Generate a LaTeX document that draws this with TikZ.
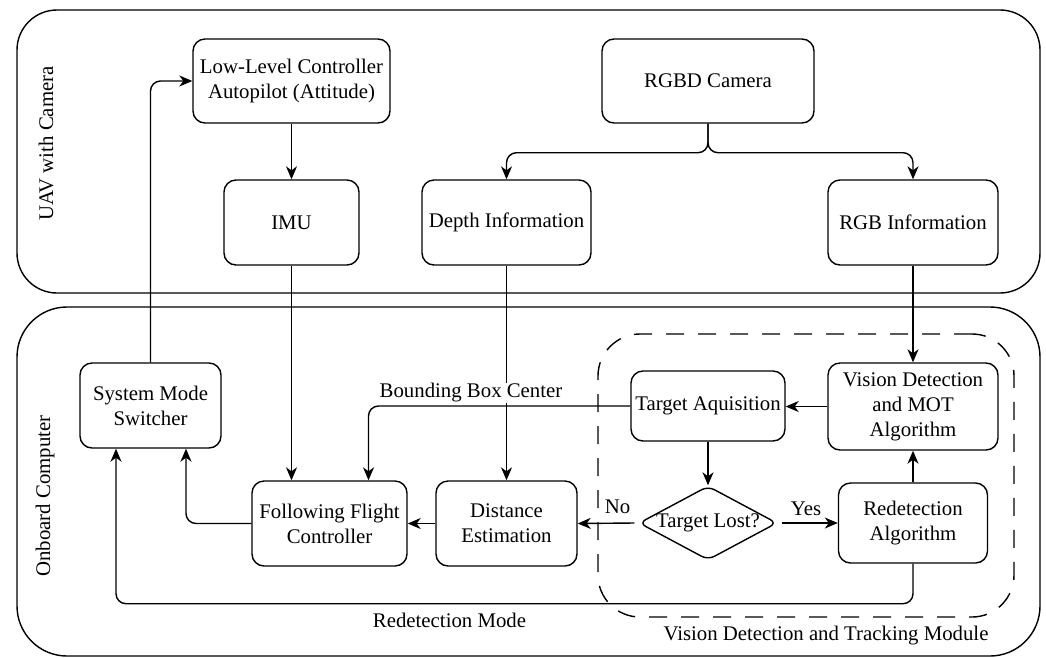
\documentclass[tikz,border=0pt]{standalone}
\usepackage{fontspec}
\setmainfont{Liberation Serif}
\usetikzlibrary{shapes.geometric,arrows.meta}
\begin{document}
\begin{tikzpicture}[x=1pt,y=-1pt,
  every node/.style={font=\fontsize{20.8}{25}\selectfont},
  box/.style={draw, line width=1.4pt, rounded corners=12pt, align=center, inner sep=0pt},
  container/.style={draw, line width=1.4pt, inner sep=0pt},
  arr/.style={draw, line width=1.4pt, -{Stealth[length=13pt,width=11pt,inset=4pt]}, rounded corners=10pt},
  lbl/.style={inner sep=1pt}
]
\useasboundingbox (0,0) rectangle (1046,657);
% containers
\node[container, rounded corners=40pt, minimum width=1023pt, minimum height=283pt] (uav) at (528.5,151.5) {};
\node[container, rounded corners=50pt, minimum width=1023pt, minimum height=349pt] (obc) at (528.5,481.5) {};
\node[container, dashed, dash pattern=on 18pt off 14pt, rounded corners=42pt, minimum width=416pt, minimum height=283pt] (vdt) at (806,475.5) {};
% nodes
\node[box, minimum width=197pt, minimum height=84pt] (llc) at (291.5,81) {Low-Level Controller\\Autopilot (Attitude)};
\node[box, minimum width=135pt, minimum height=85pt] (imu) at (291.5,222.5) {IMU};
\node[box, minimum width=212pt, minimum height=84pt] (cam) at (708,81) {RGBD Camera};
\node[box, minimum width=169pt, minimum height=85pt] (depth) at (506.5,222.5) {Depth Information};
\node[box, minimum width=170pt, minimum height=85pt] (rgb) at (913,222.5) {RGB Information};
\node[box, minimum width=141pt, minimum height=85pt] (sms) at (150.5,405.5) {System Mode\\Switcher};
\node[box, minimum width=155pt, minimum height=85pt] (ffc) at (329.5,523.5) {Following Flight\\Controller};
\node[box, minimum width=141pt, minimum height=85pt] (dist) at (506.5,523.5) {Distance\\Estimation};
\node[box, minimum width=154pt, minimum height=70pt] (tacq) at (708,406) {Target Aquisition};
\node[box, minimum width=170pt, minimum height=87pt] (vis) at (913,406.5) {Vision Detection\\and MOT\\Algorithm};
\node[draw, line width=1.4pt, diamond, rounded corners=7pt, inner sep=0pt, minimum width=138pt, minimum height=74pt] (lost) at (708,523) {\makebox[0pt]{Target Lost?}};
\node[box, minimum width=149pt, minimum height=80pt] (redet) at (913,523) {Redetection\\Algorithm};
% connectors
\draw[arr] (llc.south) -- (imu.north);
\draw[arr] (cam.south) -- ([yshift=-29pt]cam.south) -| (depth.north);
\draw[arr] (cam.south) -- ([yshift=-29pt]cam.south) -| (rgb.north);
\draw[arr] (imu.south) -- (imu.south |- ffc.north);
\draw[arr] (depth.south) -- (dist.north);
\draw[arr] (rgb.south) -- (vis.north);
\draw[arr] (vis.west) -- (vis.west -| tacq.east);
\draw[arr] (tacq.south) -- (lost.north);
\draw[arr] (redet.north) -- (vis.south);
\draw[arr] ([xshift=4pt]lost.east) -- (redet.west);
\draw[arr] ([xshift=-4pt]lost.west) -- (dist.east);
\draw[arr] (dist.west) -- (ffc.east);
\draw[arr] (tacq.west) -| ([xshift=39pt]ffc.north);
\draw[arr] (ffc.west) -| ([xshift=35.5pt]sms.south);
\draw[arr] (redet.south) -- ([yshift=-40pt]redet.south) -| ([xshift=-34.5pt]sms.south);
\draw[arr] (sms.north) |- (llc.west);
% labels
\node[lbl, fill=white] (bbc) at (471,393) {Bounding Box Center};
\node[lbl] (rdm) at (449.5,620) {Redetection Mode};
\node[lbl] (vdtm) at (826,636) {Vision Detection and Tracking Module};
\node[lbl] (no) at (617.5,507) {No};
\node[lbl] (yes) at (806,509) {Yes};
\node[lbl, rotate=90] (uavl) at (46,143.5) {UAV with Camera};
\node[lbl, rotate=90] (obl) at (45,496) {Onboard Computer};
\end{tikzpicture}
\end{document}
